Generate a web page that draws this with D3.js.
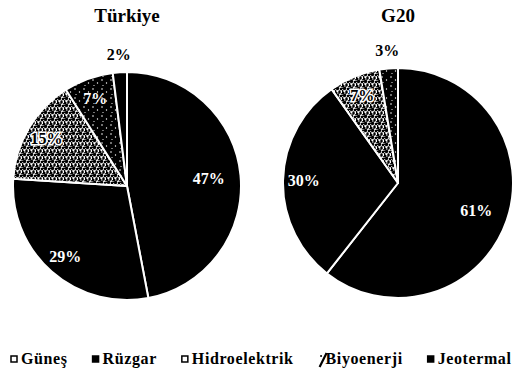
<!DOCTYPE html>
<html>
<head>
<meta charset="utf-8">
<script src="https://cdn.jsdelivr.net/npm/d3@7"></script>
<style>
  html, body { margin: 0; padding: 0; background: #fff; }
  svg { display: block; }
  text { font-family: "Liberation Serif", "DejaVu Serif", serif; font-weight: bold; }
</style>
</head>
<body>
<svg id="chart" width="515" height="371"></svg>
<script>
// Renewable energy mix shares (%)
const categories = ["Güneş", "Rüzgar", "Hidroelektrik", "Biyoenerji", "Jeotermal"];
const turkiyeValues = [47, 29, 15, 7, 2];
const g20Values = [60.6, 29.6, 7.2, 2.6, 0];
const chartTitles = ["Türkiye", "G20"];

const width = 515, height = 371;
const svg = d3.select("#chart");

// Fill textures for the black-and-white print style
const defs = svg.append("defs");

const speckle = defs.append("pattern")
  .attr("id", "speckle").attr("patternUnits", "userSpaceOnUse")
  .attr("width", 7).attr("height", 7);
speckle.append("rect").attr("width", 7).attr("height", 7).attr("fill", "#fff");
[[1, 1, 1.5], [4.5, 0.5, 1.2], [2.5, 3.5, 1.7], [6, 4, 1.3], [0.5, 6, 1.1], [4.5, 6.5, 1.2], [3.5, 2, 0.8], [6.8, 1.8, 0.8], [0.3, 3.6, 0.8]]
  .forEach(([x, y, r]) => speckle.append("circle").attr("cx", x).attr("cy", y).attr("r", r).attr("fill", "#000"));

const darkDots = defs.append("pattern")
  .attr("id", "darkDots").attr("patternUnits", "userSpaceOnUse")
  .attr("width", 9).attr("height", 9);
darkDots.append("rect").attr("width", 9).attr("height", 9).attr("fill", "#000");
[[2, 2, 0.8], [6.5, 5, 0.7], [3, 7.5, 0.6]]
  .forEach(([x, y, r]) => darkDots.append("circle").attr("cx", x).attr("cy", y).attr("r", r).attr("fill", "#fff"));

const fills = d3.scaleOrdinal()
  .domain(categories)
  .range(["#000", "#000", "url(#speckle)", "url(#darkDots)", "#000"]);

const fmt = d3.format(".0f");

const pie = d3.pie().sort(null).value(d => d.value);

function drawPie(title, values, cx, cy, R) {
  const data = categories.map((c, i) => ({ category: c, value: values[i] }));
  const arcs = pie(data).filter(a => a.data.value > 0);
  const arc = d3.arc().innerRadius(0).outerRadius(R);

  const g = svg.append("g").attr("transform", `translate(${cx},${cy})`);

  g.selectAll("path.slice")
    .data(arcs)
    .join("path")
    .attr("class", "slice")
    .attr("d", arc)
    .attr("fill", d => fills(d.data.category))
    .attr("stroke", "#fff")
    .attr("stroke-width", 2)
    .attr("stroke-linejoin", "round");

  const labelR = d => {
    const v = d.data.value;
    if (v < 5) return R + 18;
    if (v > 40) return R * 0.72;
    return R * 0.82;
  };
  g.selectAll("text.val")
    .data(arcs)
    .join("text")
    .attr("class", "val")
    .attr("transform", d => {
      const a = (d.startAngle + d.endAngle) / 2;
      const r = labelR(d);
      return `translate(${Math.sin(a) * r},${-Math.cos(a) * r})`;
    })
    .attr("text-anchor", "middle")
    .attr("dominant-baseline", "central")
    .attr("font-size", 16)
    .attr("fill", d => {
      if (d.data.value < 5) return "#000";
      return fills(d.data.category) === "url(#speckle)" ? "#000" : "#fff";
    })
    .attr("stroke", d => (fills(d.data.category) === "url(#speckle)" && d.data.value >= 5) ? "#fff" : "none")
    .attr("stroke-width", 3)
    .attr("paint-order", "stroke")
    .text(d => fmt(d.data.value) + "%");

  svg.append("text")
    .attr("x", cx).attr("y", 22)
    .attr("text-anchor", "middle")
    .attr("font-size", 19)
    .attr("fill", "#000")
    .text(title);
}

drawPie(chartTitles[0], turkiyeValues, 127, 186, 114);
drawPie(chartTitles[1], g20Values, 398, 183, 115);

// Legend along the bottom
const legend = svg.append("g").attr("transform", "translate(0,364)");
let x = 11;
categories.forEach((c, i) => {
  const item = legend.append("g").attr("transform", `translate(${x},0)`);
  const textX = c === "Biyoenerji" ? 7 : 10;
  if (c === "Biyoenerji") {
    item.append("path")
      .attr("d", "M8,-11 L1,3")
      .attr("stroke", "#000").attr("stroke-width", 2.2).attr("fill", "none");
    item.append("circle").attr("cx", 2.5).attr("cy", -8).attr("r", 1).attr("fill", "#000");
  } else {
    const f = fills(c);
    item.append("rect")
      .attr("x", 0).attr("y", -8).attr("width", 6).attr("height", 6)
      .attr("fill", (c === "Güneş" || f === "url(#speckle)") ? "#fff" : "#000")
      .attr("stroke", "#000").attr("stroke-width", 1.5);
  }
  const t = item.append("text")
    .attr("x", textX).attr("y", 0)
    .attr("font-size", 16)
    .attr("letter-spacing", 0.6)
    .attr("fill", "#000")
    .text(c);
  const w = t.node().getComputedTextLength();
  x += textX + w + 25;
});
</script>
</body>
</html>
